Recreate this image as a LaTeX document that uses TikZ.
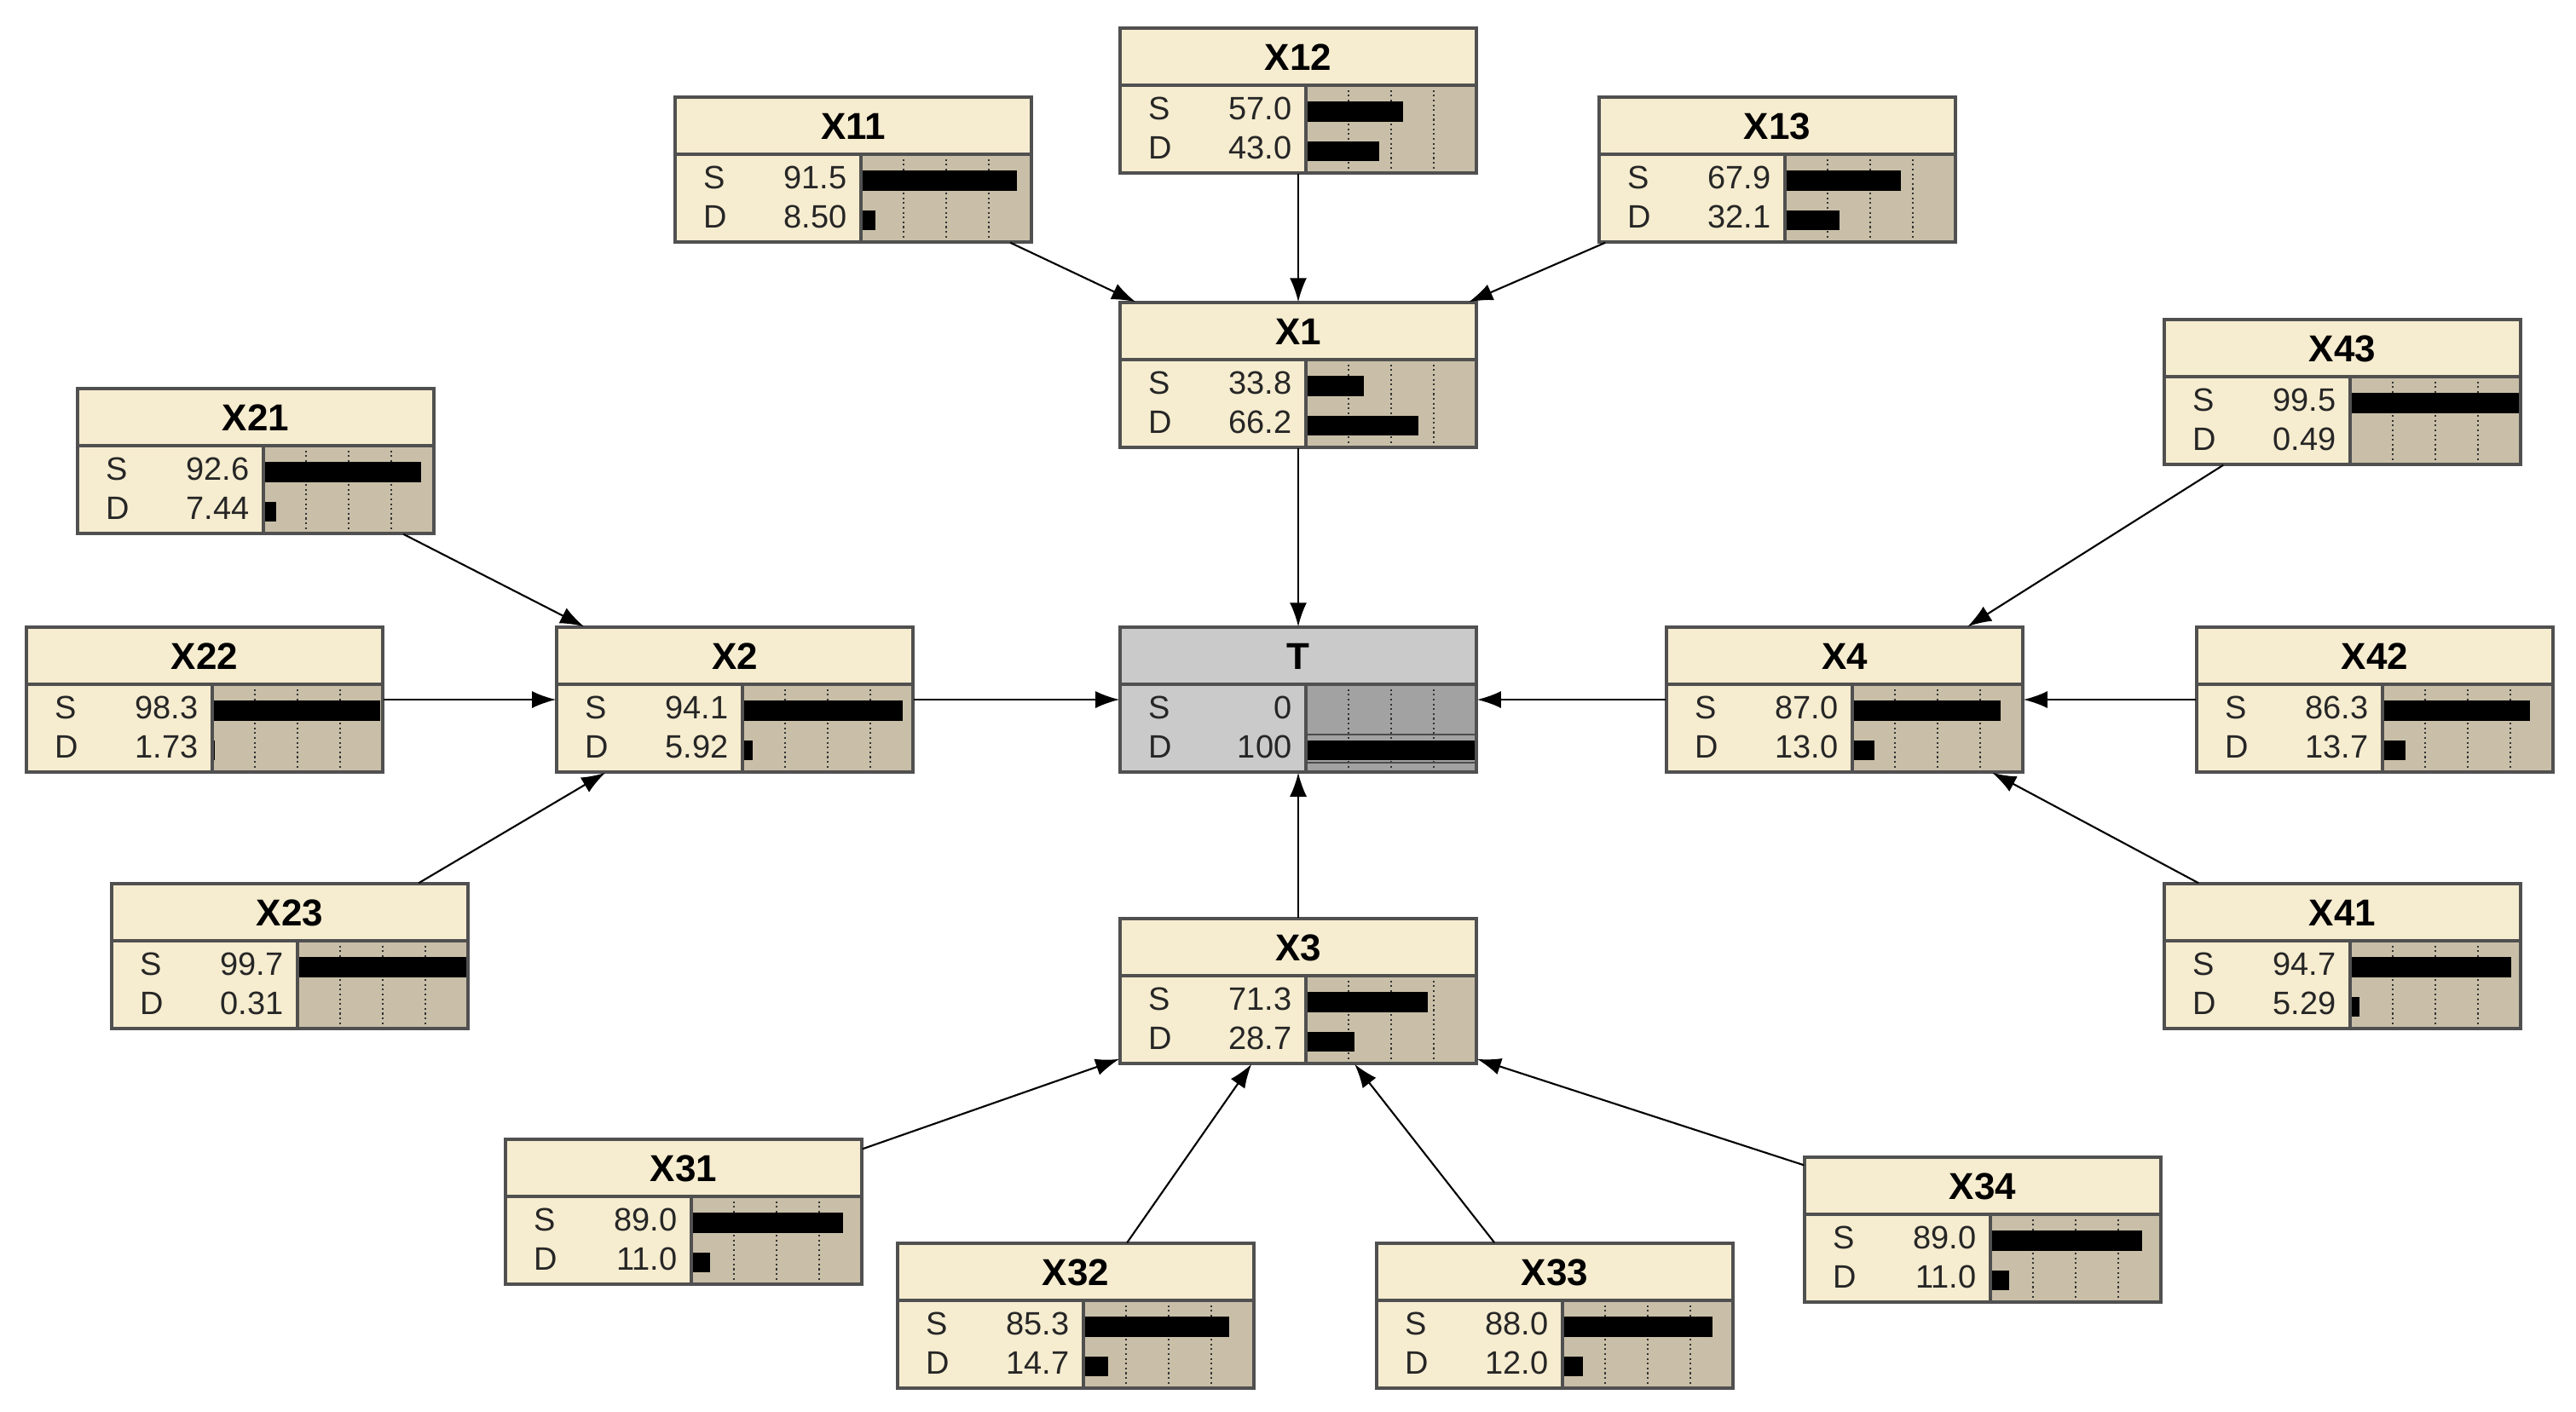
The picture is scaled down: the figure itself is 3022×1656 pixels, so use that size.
\documentclass[tikz,border=0pt]{standalone}
\usepackage{fontspec}
\setmainfont{Liberation Sans}
\usetikzlibrary{calc,arrows.meta}
\definecolor{creamA}{HTML}{F6ECCF}
\definecolor{tanA}{HTML}{C9BFA8}
\definecolor{creamT}{HTML}{CACACA}
\definecolor{tanT}{HTML}{A2A2A2}
\definecolor{bord}{HTML}{505050}
\tikzset{
 title/.style={font=\fontsize{12.5}{14}\selectfont\bfseries,inner sep=0},
 lbl/.style={font=\fontsize{10.8}{12}\selectfont,inner sep=0,text=black!85},
 grid/.style={densely dotted,line width=0.6pt,black!80},
 bord/.style={draw=bord,line width=1pt},
 arr/.style={-{Latex[length=0.28cm,width=0.2cm]},line width=0.6pt},
 box/.style={inner sep=0,minimum width=4.18cm,minimum height=1.7cm}
}
\newcommand\bnode[9]{%
 \begin{scope}[shift={(#2,#3)}]
 \fill[cream#9] (0,0) rectangle (418,170);
 \fill[tan#9] (218,67) rectangle (418,170);
 \foreach \g in {268,318,368} \draw[grid] (\g,67)--(\g,170);
 \fill[black] (218,86) rectangle ({218+2*#7},110);
 \fill[black] (218,133) rectangle ({218+2*#8},156);
 \draw[bord] (0,0) rectangle (418,170);
 \draw[bord] (0,67)--(418,67) (218,67)--(218,170);
 \node[title] at (209,34) {#4};
 \node[lbl,anchor=base west] at (33,107) {S};
 \node[lbl,anchor=base west] at (33,153) {D};
 \node[lbl,anchor=base east] at (202,107) {#5};
 \node[lbl,anchor=base east] at (202,153) {#6};
 \end{scope}
 \node[box] (#1) at ({#2+209},{#3+85}) {};}
\begin{document}
\begin{tikzpicture}[x=0.01cm,y=-0.01cm]
\useasboundingbox (0,0) rectangle (3022,1656);
\fill[white] (0,0) rectangle (3022,1656);
\bnode{X12}{1314}{33}{X12}{57.0}{43.0}{57.0}{43.0}{A}
\bnode{X11}{792}{114}{X11}{91.5}{8.50}{91.5}{8.5}{A}
\bnode{X13}{1876}{114}{X13}{67.9}{32.1}{67.9}{32.1}{A}
\bnode{X1}{1314}{355}{X1}{33.8}{66.2}{33.8}{66.2}{A}
\bnode{X43}{2539}{375}{X43}{99.5}{0.49}{99.5}{0.49}{A}
\bnode{X21}{91}{456}{X21}{92.6}{7.44}{92.6}{7.44}{A}
\bnode{X22}{31}{736}{X22}{98.3}{1.73}{98.3}{1.73}{A}
\bnode{X2}{653}{736}{X2}{94.1}{5.92}{94.1}{5.92}{A}
\bnode{T}{1314}{736}{T}{0}{100}{0}{100}{T}
\draw[black!70,line width=0.8pt] (1532,862)--(1732,862) (1532,895)--(1732,895);
\bnode{X4}{1955}{736}{X4}{87.0}{13.0}{87.0}{13.0}{A}
\bnode{X42}{2577}{736}{X42}{86.3}{13.7}{86.3}{13.7}{A}
\bnode{X23}{131}{1037}{X23}{99.7}{0.31}{99.7}{0.31}{A}
\bnode{X3}{1314}{1078}{X3}{71.3}{28.7}{71.3}{28.7}{A}
\bnode{X41}{2539}{1037}{X41}{94.7}{5.29}{94.7}{5.29}{A}
\bnode{X31}{593}{1337}{X31}{89.0}{11.0}{89.0}{11.0}{A}
\bnode{X34}{2117}{1358}{X34}{89.0}{11.0}{89.0}{11.0}{A}
\bnode{X32}{1053}{1459}{X32}{85.3}{14.7}{85.3}{14.7}{A}
\bnode{X33}{1615}{1459}{X33}{88.0}{12.0}{88.0}{12.0}{A}
% edges
\draw[arr] (X12.south) -- (X1.north);
\draw[arr] ($(X11.south west)+(394,0)$) -- ($(X1.north west)+(19,0)$);
\draw[arr] ($(X13.south west)+(8,0)$) -- ($(X1.north west)+(410,0)$);
\draw[arr] (X1.south) -- (T.north);
\draw[arr] ($(X21.south west)+(383,0)$) -- ($(X2.north west)+(33,0)$);
\draw[arr] (X22.east) -- (X2.west);
\draw[arr] ($(X23.north west)+(361,0)$) -- ($(X2.south west)+(58,0)$);
\draw[arr] (X2.east) -- (T.west);
\draw[arr] ($(X43.south west)+(70,0)$) -- ($(X4.north west)+(354,0)$);
\draw[arr] (X42.west) -- (X4.east);
\draw[arr] ($(X41.north west)+(41,0)$) -- ($(X4.south west)+(383,0)$);
\draw[arr] (X4.west) -- (T.east);
\draw[arr] (X3.north) -- (T.south);
\draw[arr] ($(X31.north east)+(0,12)$) -- ($(X3.south west)+(0,-6)$);
\draw[arr] ($(X32.north west)+(270,0)$) -- ($(X3.south west)+(155,0)$);
\draw[arr] ($(X33.north west)+(139,0)$) -- ($(X3.south west)+(276,0)$);
\draw[arr] ($(X34.north west)+(0,10)$) -- ($(X3.south east)+(0,-6)$);
\end{tikzpicture}
\end{document}
